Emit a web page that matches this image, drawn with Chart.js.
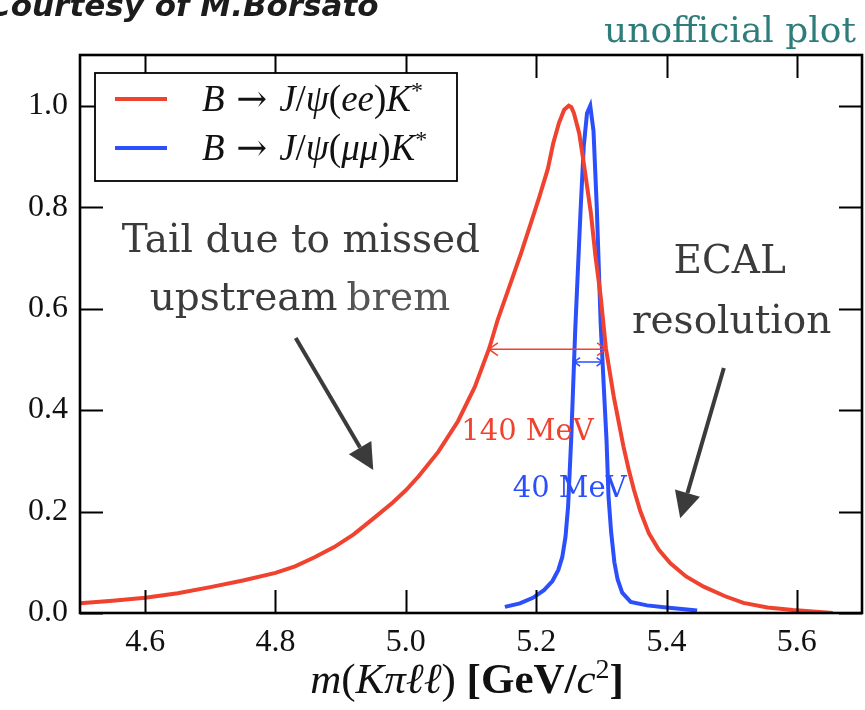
<!DOCTYPE html>
<html>
<head>
<meta charset="utf-8">
<title>m(Kπℓℓ) lineshapes</title>
<script src="https://cdn.jsdelivr.net/npm/chart.js@4.4.1/dist/chart.umd.min.js"></script>
<style>
    html, body { margin: 0; padding: 0; background: #fff; }
    #wrap { width: 865px; height: 710px; }
</style>
</head>
<body>
<div id="wrap"><canvas id="mass-chart" width="865" height="710"></canvas></div>
<script>
// B -> J/psi(ee)K*: wide peak with a long low-mass tail
const eeMass = [4.50, 4.55, 4.60, 4.65, 4.70, 4.75, 4.80, 4.83, 4.86, 4.89, 4.92, 4.95, 4.98, 5.00,
    5.02, 5.05, 5.08, 5.106, 5.128, 5.141, 5.159, 5.177, 5.192, 5.205, 5.218, 5.226, 5.235, 5.243,
    5.250, 5.254, 5.258, 5.266, 5.273, 5.284, 5.291, 5.299, 5.307, 5.319, 5.334, 5.342, 5.350, 5.360,
    5.373, 5.388, 5.406, 5.430, 5.457, 5.490, 5.518, 5.555, 5.594, 5.655];
const eeHeight = [0.019, 0.024, 0.030, 0.039, 0.051, 0.064, 0.079, 0.092, 0.110, 0.130, 0.155, 0.186,
    0.218, 0.242, 0.270, 0.318, 0.378, 0.446, 0.522, 0.578, 0.644, 0.710, 0.769, 0.821, 0.876, 0.925,
    0.966, 0.992, 1.000, 0.997, 0.985, 0.946, 0.887, 0.788, 0.703, 0.624, 0.522, 0.427, 0.328, 0.283,
    0.243, 0.200, 0.157, 0.125, 0.098, 0.072, 0.052, 0.033, 0.020, 0.011, 0.006, 0.000];

// B -> J/psi(mumu)K*: narrow peak
const mumuMass = [5.152, 5.175, 5.195, 5.212, 5.225, 5.234, 5.240, 5.245, 5.249, 5.254, 5.260, 5.268,
    5.273, 5.278, 5.283, 5.288, 5.293, 5.299, 5.304, 5.308, 5.311, 5.315, 5.320, 5.325, 5.332, 5.345,
    5.370, 5.400, 5.447];
const mumuHeight = [0.012, 0.019, 0.030, 0.045, 0.063, 0.085, 0.110, 0.150, 0.210, 0.350, 0.560, 0.790,
    0.920, 0.985, 1.000, 0.950, 0.800, 0.570, 0.440, 0.340, 0.230, 0.160, 0.100, 0.066, 0.040, 0.022,
    0.015, 0.011, 0.005];

const seriesLabels = ['B → J/ψ(ee)K*', 'B → J/ψ(μμ)K*'];
const widthLabels = ['140 MeV', '40 MeV'];
// heights at which the width arrows are drawn across each peak
const widthLevels = [0.52, 0.495];

const xTicks = [4.6, 4.8, 5.0, 5.2, 5.4, 5.6];
const yTicks = [0.0, 0.2, 0.4, 0.6, 0.8, 1.0];

const EE_COLOR = '#ef4330';
const MUMU_COLOR = '#2b4ffa';
const NOTE_COLOR = '#3b3b3b';
const MATH_FONT = '"Liberation Serif", "Times New Roman", serif';
const TEXT_FONT = '"DejaVu Serif", serif';

function toPoints(xs, ys) {
    return xs.map((x, i) => ({ x: x, y: ys[i] }));
}

// first and last x where the series crosses a given level
function crossings(xs, ys, level) {
    const found = [];
    for (let i = 1; i < xs.length; i++) {
        const a = ys[i - 1] - level, b = ys[i] - level;
        if (a === 0 || a * b < 0) {
            const t = (level - ys[i - 1]) / (ys[i] - ys[i - 1]);
            found.push(xs[i - 1] + t * (xs[i] - xs[i - 1]));
        }
    }
    return [found[0], found[found.length - 1]];
}

// split a formula into italic letters and upright symbols, '*' goes up as superscript
function mathRuns(str) {
    const runs = [];
    for (const ch of str) {
        let style = /[A-Za-zψμπℓ]/.test(ch) ? 'italic' : 'normal';
        const sup = ch === '*';
        const last = runs[runs.length - 1];
        if (last && last.style === style && !last.sup && !sup) {
            last.t += ch;
        } else {
            runs.push({ t: ch, style: style, sup: sup });
        }
    }
    return runs;
}

function drawRuns(ctx, runs, x, y, size, align) {
    const fontFor = r => (r.style || 'normal') + ' ' + (r.weight || 'normal') + ' ' +
        Math.round(r.sup ? size * 0.66 : size) + 'px ' +
        (r.t.includes('→') ? '"DejaVu Serif", serif' : MATH_FONT);
    let total = 0;
    runs.forEach(r => { ctx.font = fontFor(r); total += ctx.measureText(r.t).width; });
    let cx = align === 'center' ? x - total / 2 : x;
    ctx.textAlign = 'left';
    runs.forEach(r => {
        ctx.font = fontFor(r);
        ctx.fillText(r.t, cx, r.sup ? y - size * 0.36 : y);
        cx += ctx.measureText(r.t).width;
    });
}

function arrow(ctx, x1, y1, x2, y2, head) {
    const ang = Math.atan2(y2 - y1, x2 - x1);
    const bx = x2 - head * Math.cos(ang), by = y2 - head * Math.sin(ang);
    ctx.beginPath();
    ctx.moveTo(x1, y1);
    ctx.lineTo(bx, by);
    ctx.stroke();
    const w = head * 0.5;
    ctx.beginPath();
    ctx.moveTo(x2, y2);
    ctx.lineTo(bx + w * Math.sin(ang), by - w * Math.cos(ang));
    ctx.lineTo(bx - w * Math.sin(ang), by + w * Math.cos(ang));
    ctx.closePath();
    ctx.fill();
}

function doubleArrow(ctx, x1, x2, y, head) {
    ctx.beginPath();
    ctx.moveTo(x1, y);
    ctx.lineTo(x2, y);
    ctx.moveTo(x1 + head, y - head * 0.7);
    ctx.lineTo(x1, y);
    ctx.lineTo(x1 + head, y + head * 0.7);
    ctx.moveTo(x2 - head, y - head * 0.7);
    ctx.lineTo(x2, y);
    ctx.lineTo(x2 - head, y + head * 0.7);
    ctx.stroke();
}

// frame with inward ticks on all four sides
const framePlugin = {
    id: 'frame',
    afterDraw(chart) {
        const ctx = chart.ctx;
        const area = chart.chartArea;
        const xs = chart.scales.x, ys = chart.scales.y;
        const len = 23;
        ctx.save();
        ctx.strokeStyle = '#000';
        ctx.lineWidth = 2;
        ctx.beginPath();
        xTicks.forEach(v => {
            const px = Math.round(xs.getPixelForValue(v)) + 0.5;
            ctx.moveTo(px, area.bottom);
            ctx.lineTo(px, area.bottom - len);
            ctx.moveTo(px, area.top);
            ctx.lineTo(px, area.top + len);
        });
        yTicks.forEach(v => {
            const py = Math.round(ys.getPixelForValue(v)) + 0.5;
            ctx.moveTo(area.left, py);
            ctx.lineTo(area.left + len, py);
            ctx.moveTo(area.right, py);
            ctx.lineTo(area.right - len, py);
        });
        ctx.stroke();
        ctx.lineWidth = 2.6;
        ctx.strokeRect(area.left, area.top, area.right - area.left, area.bottom - area.top);
        ctx.restore();
    }
};

// text notes, arrows, width markers, legend and captions
const notesPlugin = {
    id: 'notes',
    afterDraw(chart) {
        const ctx = chart.ctx;
        const area = chart.chartArea;
        const xs = chart.scales.x, ys = chart.scales.y;
        const px = v => xs.getPixelForValue(v);
        const py = v => ys.getPixelForValue(v);
        ctx.save();

        // explanatory notes
        ctx.fillStyle = NOTE_COLOR;
        ctx.strokeStyle = NOTE_COLOR;
        ctx.textBaseline = 'alphabetic';
        ctx.font = '39px ' + TEXT_FONT;
        ctx.textAlign = 'center';
        ctx.fillText('Tail due to missed', px(4.839), py(0.712));
        ctx.textAlign = 'left';
        ctx.fillText('upstream', px(4.607), py(0.598));
        const upW = ctx.measureText('upstream').width;
        ctx.fillStyle = '#555';
        ctx.fillText('brem', px(4.607) + upW + 9, py(0.598));
        ctx.fillStyle = NOTE_COLOR;
        ctx.textAlign = 'center';
        ctx.fillText('ECAL', px(5.497), py(0.671));
        ctx.fillText('resolution', px(5.5), py(0.552));

        ctx.lineWidth = 4;
        arrow(ctx, px(4.831), py(0.542), px(4.950), py(0.282), 26);
        arrow(ctx, px(5.488), py(0.483), px(5.421), py(0.187), 26);

        // width markers across each peak
        const series = [[eeMass, eeHeight, EE_COLOR], [mumuMass, mumuHeight, MUMU_COLOR]];
        ctx.lineWidth = 1.5;
        series.forEach((s, i) => {
            const ends = crossings(s[0], s[1], widthLevels[i]);
            ctx.strokeStyle = s[2];
            doubleArrow(ctx, px(ends[0]), px(ends[1]), py(widthLevels[i]), i === 0 ? 9 : 6);
        });
        ctx.font = '29px ' + TEXT_FONT;
        ctx.textAlign = 'left';
        ctx.fillStyle = EE_COLOR;
        ctx.fillText(widthLabels[0], px(5.085), py(0.341));
        ctx.fillStyle = MUMU_COLOR;
        ctx.fillText(widthLabels[1], px(5.164), py(0.229));

        // legend box
        const lx = area.left + 15, ly = area.top + 18, lw = 362, lh = 108;
        ctx.fillStyle = '#fff';
        ctx.fillRect(lx, ly, lw, lh);
        ctx.strokeStyle = '#000';
        ctx.lineWidth = 1.8;
        ctx.strokeRect(lx, ly, lw, lh);
        chart.data.datasets.forEach((ds, i) => {
            const rowY = ly + 26 + i * 49;
            ctx.strokeStyle = ds.borderColor;
            ctx.lineWidth = 4;
            ctx.beginPath();
            ctx.moveTo(lx + 20, rowY);
            ctx.lineTo(lx + 72, rowY);
            ctx.stroke();
            ctx.fillStyle = '#111';
            drawRuns(ctx, mathRuns(ds.label), lx + 107, rowY + 12, 37, 'left');
        });

        // axis title
        ctx.fillStyle = '#111';
        const titleRuns = mathRuns('m(Kπℓℓ)').concat([
            { t: ' [GeV/', style: 'normal', weight: 'bold' },
            { t: 'c', style: 'italic' },
            { t: '2', style: 'normal', sup: true },
            { t: ']', style: 'normal', weight: 'bold' }
        ]);
        drawRuns(ctx, titleRuns, 467, 693, 43, 'center');

        // captions above the frame
        ctx.textAlign = 'right';
        ctx.fillStyle = '#2e7d7a';
        ctx.font = '36px ' + TEXT_FONT;
        ctx.fillText('unofficial plot', 856, 42);
        ctx.textAlign = 'left';
        ctx.fillStyle = '#1c1c1c';
        ctx.font = 'italic bold 31px "DejaVu Sans", sans-serif';
        ctx.fillText('Courtesy of M.Borsato', -12, 16);
        ctx.restore();
    }
};

document.addEventListener('DOMContentLoaded', function() {
    const ctx = document.getElementById('mass-chart');
    const tickFont = { family: MATH_FONT, size: 32 };

    new Chart(ctx.getContext('2d'), {
        type: 'line',
        data: {
            datasets: [
                {
                    label: seriesLabels[0],
                    data: toPoints(eeMass, eeHeight),
                    borderColor: EE_COLOR,
                    borderWidth: 4,
                    pointRadius: 0,
                    tension: 0
                },
                {
                    label: seriesLabels[1],
                    data: toPoints(mumuMass, mumuHeight),
                    borderColor: MUMU_COLOR,
                    borderWidth: 4,
                    pointRadius: 0,
                    tension: 0
                }
            ]
        },
        options: {
            responsive: false,
            animation: false,
            layout: { padding: { top: 55, right: 3, left: 0, bottom: 0 } },
            plugins: {
                legend: { display: false },
                tooltip: { enabled: false }
            },
            scales: {
                x: {
                    type: 'linear',
                    min: 4.5,
                    max: 5.7,
                    afterBuildTicks: scale => { scale.ticks = xTicks.map(v => ({ value: v })); },
                    afterFit: scale => { scale.height = 97; },
                    grid: { display: false, drawTicks: false },
                    border: { display: false },
                    ticks: {
                        padding: 10,
                        color: '#111',
                        font: tickFont,
                        maxRotation: 0,
                        autoSkip: false,
                        callback: v => Number(v).toFixed(1)
                    }
                },
                y: {
                    min: 0,
                    max: 1.1,
                    afterBuildTicks: scale => { scale.ticks = yTicks.map(v => ({ value: v })); },
                    afterFit: scale => { scale.width = 80; },
                    grid: { display: false, drawTicks: false },
                    border: { display: false },
                    ticks: {
                        padding: 12,
                        color: '#111',
                        font: tickFont,
                        autoSkip: false,
                        callback: v => Number(v).toFixed(1)
                    }
                }
            }
        },
        plugins: [framePlugin, notesPlugin]
    });
});
</script>
</body>
</html>
